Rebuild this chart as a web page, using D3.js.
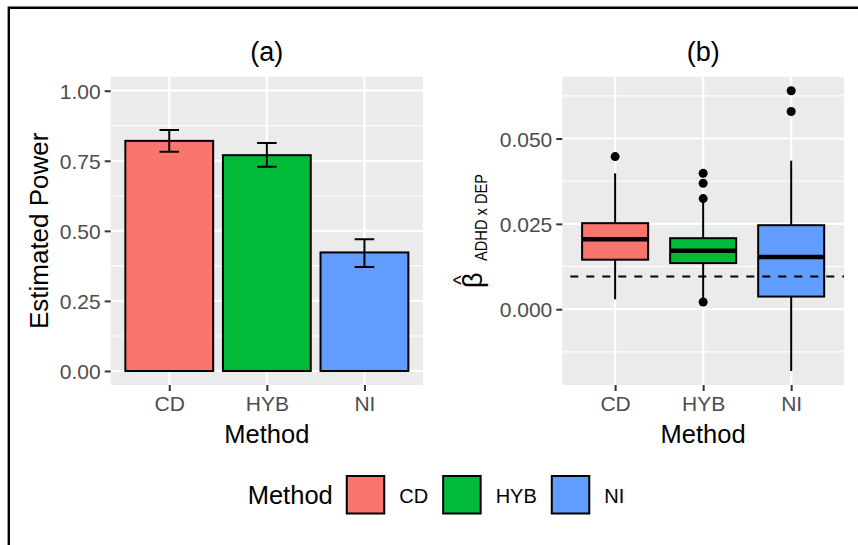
<!DOCTYPE html>
<html>
<head>
<meta charset="utf-8">
<script src="https://cdn.jsdelivr.net/npm/d3@7"></script>
<style>
  body { margin: 0; background: #fff; }
  svg { display: block; font-family: "Liberation Sans", Arial, sans-serif; }
</style>
</head>
<body>
<svg id="canvas" width="858" height="545"></svg>
<script>
// data
const methods = ["CD", "HYB", "NI"];
const methodColors = ["#F8766D", "#00BA38", "#619CFF"];

const power = [0.821, 0.770, 0.423];
const powerLower = [0.782, 0.729, 0.371];
const powerUpper = [0.860, 0.813, 0.470];
const powerTicks = [0, 0.25, 0.5, 0.75, 1];

const whiskerLow = [0.0029, 0.0025, -0.0181];
const boxQ1 = [0.0145, 0.0135, 0.0037];
const boxMedian = [0.0205, 0.0171, 0.0153];
const boxQ3 = [0.0252, 0.0208, 0.0246];
const whiskerHigh = [0.0398, 0.0315, 0.0435];
const outliers = [[0.0447], [0.0021, 0.0324, 0.0369, 0.0398], [0.0579, 0.0640]];
const trueBeta = 0.0096;
const betaTicks = [0, 0.025, 0.05];

const svg = d3.select("#canvas");

// frame lines (top and left)
svg.append("path")
  .attr("d", "M8.8,545V7.8H858")
  .attr("fill", "none")
  .attr("stroke", "#000")
  .attr("stroke-width", 2.4);

const panelTop = 76.7, panelBottom = 385;
const panelA = { left: 110.7, right: 423 };
const panelB = { left: 562.3, right: 844 };

const xA = d3.scalePoint().domain(methods).range([panelA.left, panelA.right]).padding(0.6);
const xB = d3.scalePoint().domain(methods).range([panelB.left, panelB.right]).padding(0.6);
const yA = d3.scaleLinear().domain([-0.05, 1.05]).range([panelBottom, panelTop]);

const allBeta = whiskerLow.concat(whiskerHigh, outliers.flat());
const bMin = d3.min(allBeta), bMax = d3.max(allBeta);
const bPad = (bMax - bMin) * 0.05;
const yB = d3.scaleLinear().domain([bMin - bPad, bMax + bPad]).range([panelBottom, panelTop]);

function midpoints(ticks, scale) {
  const step = ticks[1] - ticks[0];
  const out = [];
  const [d0, d1] = scale.domain();
  for (let v = ticks[0] - step / 2; v <= d1; v += step) {
    if (v >= d0) out.push(v);
  }
  return out;
}

function drawPanel(x, y, panel, yTicks, fmt) {
  const g = svg.append("g");
  g.append("rect")
    .attr("x", panel.left).attr("y", panelTop)
    .attr("width", panel.right - panel.left).attr("height", panelBottom - panelTop)
    .attr("fill", "#EBEBEB");
  g.selectAll(".minor").data(midpoints(yTicks, y)).enter().append("line")
    .attr("x1", panel.left).attr("x2", panel.right)
    .attr("y1", d => y(d)).attr("y2", d => y(d))
    .attr("stroke", "#fff").attr("stroke-width", 1.1);
  g.selectAll(".major").data(yTicks).enter().append("line")
    .attr("x1", panel.left).attr("x2", panel.right)
    .attr("y1", d => y(d)).attr("y2", d => y(d))
    .attr("stroke", "#fff").attr("stroke-width", 2.2);
  g.selectAll(".vmajor").data(methods).enter().append("line")
    .attr("x1", d => x(d)).attr("x2", d => x(d))
    .attr("y1", panelTop).attr("y2", panelBottom)
    .attr("stroke", "#fff").attr("stroke-width", 2.2);

  const ax = svg.append("g")
    .attr("transform", `translate(${panel.left},0)`)
    .call(d3.axisLeft(y).tickValues(yTicks).tickFormat(d3.format(fmt)).tickSize(6).tickPadding(4));
  const bx = svg.append("g")
    .attr("transform", `translate(0,${panelBottom})`)
    .call(d3.axisBottom(x).tickSize(6).tickPadding(5));
  [ax, bx].forEach(a => {
    a.attr("font-family", null).attr("font-size", null);
    a.select(".domain").remove();
    a.selectAll("line").attr("stroke", "#333").attr("stroke-width", 2);
    a.selectAll("text").attr("fill", "#4D4D4D").style("font-size", "21px");
  });
  ax.selectAll("text").attr("dy", "0.36em");
  bx.selectAll("text").attr("dy", "0.72em");

  svg.append("text")
    .attr("x", (panel.left + panel.right) / 2).attr("y", 442.5)
    .attr("text-anchor", "middle").style("font-size", "25.5px")
    .text("Method");
  return g;
}

// ---- panel (a): bars with error bars
drawPanel(xA, yA, panelA, powerTicks, ".2f");
const barW = xA.step() * 0.9;
svg.selectAll(".bar").data(methods).enter().append("rect")
  .attr("x", d => xA(d) - barW / 2)
  .attr("y", (d, i) => yA(power[i]))
  .attr("width", barW)
  .attr("height", (d, i) => yA(0) - yA(power[i]))
  .attr("fill", (d, i) => methodColors[i])
  .attr("stroke", "#000").attr("stroke-width", 2);

const capW = xA.step() * 0.2;
methods.forEach((m, i) => {
  const cx = xA(m);
  const p = d3.path();
  p.moveTo(cx, yA(powerLower[i])); p.lineTo(cx, yA(powerUpper[i]));
  p.moveTo(cx - capW / 2, yA(powerLower[i])); p.lineTo(cx + capW / 2, yA(powerLower[i]));
  p.moveTo(cx - capW / 2, yA(powerUpper[i])); p.lineTo(cx + capW / 2, yA(powerUpper[i]));
  svg.append("path").attr("d", p.toString())
    .attr("fill", "none").attr("stroke", "#000").attr("stroke-width", 2);
});

svg.append("text")
  .attr("x", (panelA.left + panelA.right) / 2).attr("y", 61)
  .attr("text-anchor", "middle").style("font-size", "27px").text("(a)");
svg.append("text")
  .attr("transform", "translate(48,230.8) rotate(-90)")
  .attr("text-anchor", "middle").style("font-size", "26px").text("Estimated Power");

// ---- panel (b): boxplots
drawPanel(xB, yB, panelB, betaTicks, ".3f");
const boxW = xB.step() * 0.75;
methods.forEach((m, i) => {
  const cx = xB(m);
  svg.append("line")
    .attr("x1", cx).attr("x2", cx)
    .attr("y1", yB(whiskerLow[i])).attr("y2", yB(whiskerHigh[i]))
    .attr("stroke", "#000").attr("stroke-width", 2);
  svg.append("rect")
    .attr("x", cx - boxW / 2).attr("y", yB(boxQ3[i]))
    .attr("width", boxW).attr("height", yB(boxQ1[i]) - yB(boxQ3[i]))
    .attr("fill", methodColors[i]).attr("stroke", "#000").attr("stroke-width", 2);
  svg.append("line")
    .attr("x1", cx - boxW / 2).attr("x2", cx + boxW / 2)
    .attr("y1", yB(boxMedian[i])).attr("y2", yB(boxMedian[i]))
    .attr("stroke", "#000").attr("stroke-width", 4.5);
  svg.selectAll(null).data(outliers[i]).enter().append("circle")
    .attr("cx", cx).attr("cy", d => yB(d)).attr("r", 4.5).attr("fill", "#000");
});

svg.append("line")
  .attr("x1", panelB.left).attr("x2", panelB.right)
  .attr("y1", yB(trueBeta)).attr("y2", yB(trueBeta))
  .attr("stroke", "#000").attr("stroke-width", 2)
  .attr("stroke-dasharray", "8,8").attr("stroke-dashoffset", 8);

svg.append("text")
  .attr("x", (panelB.left + panelB.right) / 2).attr("y", 61)
  .attr("text-anchor", "middle").style("font-size", "27px").text("(b)");

// y title: beta hat with subscript (rotated)
const yt = svg.append("g").attr("transform", "rotate(-90)");
yt.append("text").attr("x", -288).attr("y", 482)
  .style("font-size", "27px").text("β");
yt.append("text").attr("x", -261).attr("y", 487)
  .attr("textLength", 87).attr("lengthAdjust", "spacingAndGlyphs")
  .style("font-size", "16.5px").text("ADHD x DEP");
yt.append("text").attr("x", -280).attr("y", 468)
  .attr("text-anchor", "middle").style("font-size", "20px").text("^");

// ---- legend
const leg = svg.append("g");
const legTitle = leg.append("text").attr("x", 247.7).attr("y", 504.3)
  .style("font-size", "25.5px").text("Method");
let lx = 247.7 + legTitle.node().getComputedTextLength() + 14;
methods.forEach((m, i) => {
  leg.append("rect").attr("x", lx).attr("y", 476)
    .attr("width", 37.5).attr("height", 37.5)
    .attr("fill", methodColors[i]).attr("stroke", "#000").attr("stroke-width", 2);
  const t = leg.append("text").attr("x", lx + 37.5 + 15).attr("y", 503.3)
    .style("font-size", "20px").text(m);
  lx += 37.5 + 15 + t.node().getComputedTextLength() + 15;
});
</script>
</body>
</html>
